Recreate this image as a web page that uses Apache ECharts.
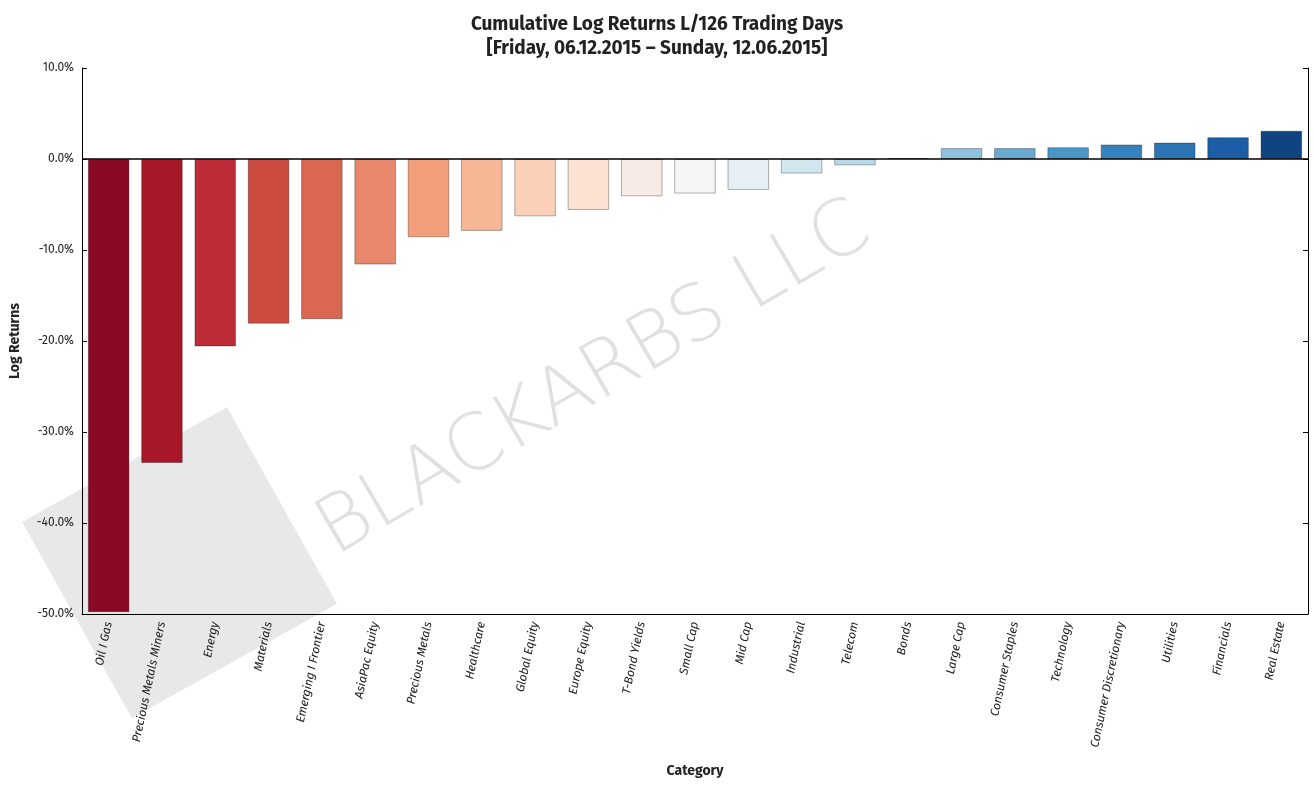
<!DOCTYPE html>
<html><head><meta charset="utf-8">
<script src="https://cdn.jsdelivr.net/npm/echarts@6/dist/echarts.min.js"></script>
<style>body{margin:0}#c{width:1314px;height:792px}</style></head>
<body><div id="c"></div>
<script>
var categories = ['Oil I Gas','Precious Metals Miners','Energy','Materials','Emerging I Frontier','AsiaPac Equity','Precious Metals','Healthcare','Global Equity','Europe Equity','T-Bond Yields','Small Cap','Mid Cap','Industrial','Telecom','Bonds','Large Cap','Consumer Staples','Technology','Consumer Discretionary','Utilities','Financials','Real Estate'];
var returns = [-49.8,-33.4,-20.6,-18.1,-17.6,-11.6,-8.6,-7.9,-6.3,-5.6,-4.1,-3.8,-3.4,-1.6,-0.7,0.1,1.2,1.2,1.3,1.6,1.8,2.4,3.1];
var colors = ['#8a0a26','#a71729','#bd2c36','#cc4b40','#da6752','#e8876b','#f39f7c','#f7b797','#fbcfb8','#fde2d4','#f8ebe5','#f5f5f4','#e6eff5','#d2e6f0','#b6d8e9','#f4f4f4','#8fc2de','#6aa9d0','#4a96c7','#3582be','#2d74b5','#1c5ea6','#0f4382'];

var chart = echarts.init(document.getElementById('c'));
var font = 'Fira Sans, Open Sans, sans-serif';
chart.setOption({
  animation: false,
  title: {
    text: 'Cumulative Log Returns L/126 Trading Days\n[Friday, 06.12.2015 – Sunday, 12.06.2015]',
    left: 'center', top: 8,
    textStyle: {fontSize: 19, fontWeight: 'bold', color: '#222', lineHeight: 24, fontFamily: font}
  },
  grid: {left: 82, right: 6, top: 68, bottom: 178},
  graphic: [
    {type: 'rect', rotation: 0.51, x: 22, y: 522,
     shape: {x: 0, y: 0, width: 235, height: 225}, style: {fill: 'rgba(0,0,0,0.09)'}, z: 0},
    {type: 'text', rotation: 0.53, x: 305, y: 505,
     style: {text: 'BLACKARBS LLC', fontSize: 78, fill: 'rgba(0,0,0,0.12)', fontFamily: 'DejaVu Sans', fontWeight: 'lighter'}, z: 0}
  ],
  xAxis: {
    type: 'category', data: categories, name: 'Category', nameLocation: 'middle', nameGap: 150,
    nameTextStyle: {fontSize: 14, fontWeight: 'bold', color: '#222', fontFamily: font},
    axisLine: {show: true, onZero: false, lineStyle: {color: '#000'}},
    axisTick: {alignWithLabel: true, lineStyle: {color: '#000'}},
    axisLabel: {rotate: 78, interval: 0, fontStyle: 'italic', fontSize: 12, color: '#222', fontFamily: font}
  },
  yAxis: [{
    type: 'value', min: -50, max: 10, interval: 10, name: 'Log Returns', nameLocation: 'middle', nameGap: 60,
    nameTextStyle: {fontSize: 14, fontWeight: 'bold', color: '#222', fontFamily: font},
    axisLine: {show: true, lineStyle: {color: '#000'}},
    axisTick: {show: true, inside: true, lineStyle: {color: '#000'}},
    splitLine: {show: false},
    axisLabel: {formatter: function (v) { return v.toFixed(1) + '%'; }, fontSize: 12, color: '#222', fontFamily: font}
  }, {
    type: 'value', min: -50, max: 10, interval: 10, position: 'right',
    axisLine: {show: true, lineStyle: {color: '#000'}},
    axisTick: {show: true, inside: true, lineStyle: {color: '#000'}},
    axisLabel: {show: false}, splitLine: {show: false}
  }],
  series: [{
    type: 'bar', barWidth: '78%', z: 3,
    data: returns.map(function (v, i) {
      return {value: v, itemStyle: {color: colors[i], borderColor: 'rgba(0,0,0,0.3)', borderWidth: 1}};
    }),
    markLine: {symbol: 'none', silent: true, label: {show: false},
      lineStyle: {color: '#000', type: 'solid', width: 1.5}, data: [{yAxis: 0}]}
  }, {
    type: 'line', yAxisIndex: 1, data: []
  }]
});
</script></body></html>
